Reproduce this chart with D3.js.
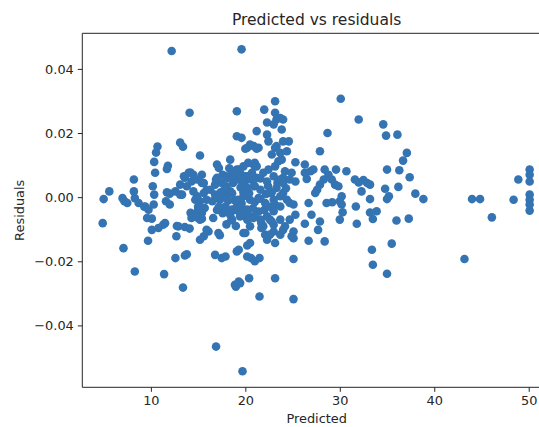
<!DOCTYPE html>
<html>
<head>
<meta charset="UTF-8">
<title>Predicted vs residuals</title>
<script src="https://cdn.jsdelivr.net/npm/d3@7"></script>
<style>
* { margin: 0; padding: 0; }
body { background: #fff; }
#chart { display: block; }
text { font-family: "DejaVu Sans", sans-serif; fill: #262626; }
</style>
</head>
<body>
<svg id="chart"></svg>
<script>
// values, chunk by chunk (left to right)
const predicted = [
  5.0, 4.9, 5.6, 7.0, 7.2, 7.5, 7.1, 8.2, 8.2, 8.3,
  8.7, 8.3, 9.3, 9.4, 9.75, 9.6, 10.1, 9.7, 10.1, 10.8,
  11.3, 10.35, 10.3, 10.2, 10.7, 10.55, 10.35, 10.45, 11.8, 11.7,
  11.7, 12.0, 11.6, 12.0, 11.5, 11.4,
  12.2, 13.1, 13.4, 14.1, 15.2, 13.1, 13.6, 14.2, 13.5, 14.0,
  14.5, 14.3, 13.8, 13.3, 12.6, 13.1, 14.5, 14.9, 14.7, 15.2,
  15.0, 15.4, 15.6, 15.9, 15.6, 15.9, 15.4, 14.9, 14.2, 14.7,
  15.4, 15.7, 15.2, 15.0, 14.3, 14.9, 15.4, 12.75, 12.7, 12.9,
  13.6, 14.1, 12.6, 13.6, 13.8, 13.4, 15.2, 15.6, 16.1, 15.9,
  17.0, 17.2, 18.4, 16.8, 17.5, 18.0, 16.8, 17.3, 17.9, 18.4,
  18.7, 19.1, 19.45, 19.1, 19.3, 18.6, 19.8, 20.2, 17.9, 18.6,
  19.1, 19.6, 19.45, 18.6, 18.5, 19.45, 20.2, 17.15, 17.3, 16.8,
  17.5, 17.9, 16.9, 19.1, 19.3, 19.0, 19.45, 19.7, 19.6, 19.1,
  19.1, 19.6, 19.8, 20.0, 16.3, 16.5, 17.0, 17.6, 18.1, 17.7,
  18.2, 18.9, 19.5, 19.9, 18.3, 17.0, 17.6, 18.0, 19.0, 16.6,
  17.4, 18.0, 18.6, 19.2, 19.8, 20.4, 21.0, 21.6, 22.2, 22.8,
  17.8, 18.4, 19.0, 19.6, 20.2, 20.8, 21.4, 22.0, 22.6, 23.2,
  18.0, 18.8, 19.6, 20.6, 21.6, 22.4, 23.4, 24.3, 17.2, 16.9,
  20.2, 20.9, 21.4, 21.2, 20.5, 20.0, 21.2, 22.0, 22.3, 21.0,
  23.15, 23.15, 23.3, 23.7, 24.0, 23.0, 23.85, 22.3, 22.45, 24.0,
  24.6, 23.3, 23.15, 23.7, 24.4, 22.8, 23.5, 23.85, 25.3, 21.0,
  20.9, 21.2, 22.45, 23.15, 24.2, 24.9, 24.7, 24.0, 25.3, 20.3,
  21.0, 20.7, 20.0, 21.2, 21.9, 22.3, 23.0, 23.7, 24.0, 23.3,
  22.6, 21.6, 20.9, 20.2, 19.8, 20.5, 21.4, 22.1, 23.0, 23.7,
  24.0, 24.4, 23.7, 23.0, 22.3, 21.6, 20.9, 20.2, 19.6, 20.5,
  21.9, 23.0, 23.7,
  26.3, 24.7, 26.7, 27.0, 27.9, 25.1, 27.7, 28.6,
  21.7, 22.1, 22.3, 20.85, 20.2, 20.6, 21.0, 21.5, 20.2, 20.5,
  21.5, 20.4, 23.15, 25.1, 25.1, 25.1, 23.0, 23.7, 23.15, 24.0,
  22.6, 24.7, 22.6, 24.2, 24.9, 21.7, 22.8, 25.1, 25.3, 18.9,
  19.3,
  26.9, 26.5, 26.3, 27.2, 27.9, 28.7, 30.1, 32.0, 28.4,
  28.8, 28.3, 29.15, 29.5, 29.85, 27.9, 27.6, 27.4, 29.6, 30.7,
  29.2, 30.2, 30.0, 30.2, 30.3, 30.0, 26.3, 26.7, 28.4,
  31.6, 32.0, 32.5, 32.9, 32.3, 31.7, 31.8,
  33.2, 33.2, 33.9, 33.2, 33.5, 33.4, 33.5, 35.0, 35.5,
  36.0, 37.3, 34.6, 34.9, 36.1, 35.0, 36.3, 36.7, 37.1, 37.4,
  36.2, 34.8, 35.2, 35.0, 38.0, 38.85,
  43.2, 44.0, 44.85, 46.1, 48.4, 48.9, 50.1, 50.1, 50.1, 50.1,
  50.1, 50.1, 50.1
];
const residuals = [
  -0.0006, -0.0081, 0.0018, -0.0003, -0.0013, -0.0018, -0.0159, 0.0055, 0.0018, -0.0003,
  -0.0018, -0.0232, -0.003, -0.0029, -0.0039, -0.0065, -0.0067, -0.0136, -0.0102, -0.0096,
  -0.0086, 0.0008, -0.0023, 0.0034, 0.0158, 0.0139, 0.011, 0.0076, 0.0098, 0.0088,
  0.0015, 0.0011, -0.0013, -0.0023, -0.0081, -0.024,
  0.0456, 0.017, 0.0157, 0.0263, 0.013, 0.0039, 0.0061, 0.0077, 0.0065, 0.0076,
  0.007, 0.0049, 0.0034, 0.0008, 0.0018, 0.0008, 0.0018, 0.0003, -0.0008, -0.0013,
  -0.0029, 0.0044, 0.0044, 0.0023, 0.0013, -0.0008, 0.007, 0.0055, -0.0049, -0.0055,
  -0.0049, -0.0034, -0.007, -0.0039, -0.0065, -0.0063, -0.0067, -0.009, -0.0122, -0.0091,
  -0.0093, -0.0098, -0.019, -0.0182, -0.0178, -0.0282, -0.0133, -0.0122, -0.0107, -0.0102,
  0.0102, 0.0091, 0.0117, 0.0039, 0.0044, 0.0034, 0.0008, -0.0008, 0.0003, 0.0018,
  0.0044, 0.0055, 0.0076, 0.0086, 0.0086, 0.0081, 0.0096, 0.0065, -0.0029, -0.0039,
  -0.0029, -0.0018, -0.0049, -0.007, -0.0072, -0.006, -0.007, -0.0112, -0.0119, -0.018,
  -0.019, -0.0185, -0.0466, -0.0169, -0.0164, -0.0279, -0.0268, -0.0543, 0.0461, 0.0268,
  0.019, 0.0185, -0.0112, -0.0112, 0.0023, -0.0013, 0.006, 0.007, 0.006, 0.002,
  -0.001, -0.001, 0.003, 0.0045, 0.009, -0.004, -0.005, -0.0085, -0.009, -0.0065,
  0.0015, -0.0005, 0.0012, -0.0008, 0.0015, 0.0012, -0.0015, -0.0005, 0.001, 0.0015,
  -0.0045, -0.0055, -0.004, -0.0055, -0.005, -0.0035, -0.0045, -0.004, -0.003, -0.0025,
  0.0065, 0.0062, 0.005, 0.0055, 0.0058, 0.0035, 0.0045, 0.0028, -0.003, 0.0055,
  0.0154, 0.0159, 0.0154, 0.0206, 0.0164, 0.0151, 0.0151, 0.0273, 0.0233, 0.0035,
  0.0299, 0.0263, 0.0242, 0.0247, 0.0242, 0.0227, 0.0211, 0.0195, 0.0174, 0.0174,
  0.0174, 0.0159, 0.0154, 0.0138, 0.0143, 0.0133, 0.0112, 0.0117, 0.0109, 0.0107,
  0.0102, 0.0096, 0.0086, 0.0096, 0.0081, 0.0076, 0.0055, 0.006, 0.0049, 0.0107,
  0.0096, 0.0076, 0.0065, 0.006, 0.0076, 0.0049, 0.0065, 0.0055, 0.0044, 0.0029,
  0.0013, 0.0023, 0.0034, 0.0029, 0.0003, -0.0008, -0.0003, -0.0018, -0.0008, 0.0003,
  0.0013, -0.0008, -0.0029, -0.0044, -0.006, -0.007, -0.006, -0.0039, -0.0029, -0.0091,
  -0.0091, -0.0086, -0.007,
  0.0102, -0.0018, -0.0018, -0.0055, -0.0076, -0.0107, -0.0102, -0.0018,
  -0.0096, -0.0117, -0.0133, -0.0065, -0.0185, -0.019, -0.02, -0.019, -0.0151, -0.0143,
  -0.031, -0.0253, -0.0253, -0.0318, -0.0193, -0.0128, -0.0107, -0.0117, -0.0143, -0.0102,
  -0.007, -0.007, -0.0117, -0.0091, -0.0122, -0.0081, -0.0076, -0.0023, -0.0055, -0.0273,
  -0.0263,
  0.0081, 0.0057, 0.0076, 0.0086, 0.0143, 0.02, 0.0307, 0.0242, 0.0086,
  0.007, 0.0055, 0.0055, 0.0039, 0.0034, 0.0039, 0.0023, 0.0013, 0.0086, 0.0081,
  -0.0016, 0.0003, -0.0013, -0.0023, -0.0047, -0.007, -0.0083, -0.0136, -0.0138,
  0.0055, 0.0046, 0.0053, 0.0044, 0.0018, -0.0029, -0.0083,
  0.0039, -0.0006, -0.0044, -0.0048, -0.0068, -0.0164, -0.0211, -0.0239, -0.0145,
  -0.0073, -0.0067, 0.0227, 0.0192, 0.0195, 0.0086, 0.0084, 0.0114, 0.0138, 0.0062,
  0.0032, 0.0026, 0.0003, -0.0006, 0.0011, -0.0006,
  -0.0193, -0.0006, -0.0006, -0.0063, -0.0008, 0.0055, 0.0086, 0.007, 0.0049, 0.0008,
  -0.0008, -0.0023, -0.0042
];
const xTicks = [10, 20, 30, 40, 50];
const yTicks = [-0.04, -0.02, 0.00, 0.02, 0.04];

(function() {
  const width = 539, height = 427;
  const plotLeft = 82.3, plotRight = 551, plotTop = 33.3, plotBottom = 387.3;

  const svg = d3.select("#chart").attr("width", width).attr("height", height);

  const x = d3.scaleLinear().domain([2.74, 52.36]).range([plotLeft, plotRight]);
  const y = d3.scaleLinear().domain([-0.0593, 0.0511]).range([plotBottom, plotTop]);

  const points = predicted.map((p, i) => ({ p: p, r: residuals[i] }));

  svg.append("g")
    .selectAll("circle")
    .data(points)
    .enter()
    .append("circle")
    .attr("cx", d => x(d.p))
    .attr("cy", d => y(d.r))
    .attr("r", 4.3)
    .style("fill", "#3474b3");

  // axes
  const xAxis = svg.append("g")
    .attr("transform", `translate(0,${plotBottom})`)
    .call(d3.axisBottom(x).tickValues(xTicks).tickSize(4.5).tickPadding(4).tickSizeOuter(0));
  const yAxis = svg.append("g")
    .attr("transform", `translate(${plotLeft},0)`)
    .call(d3.axisLeft(y).tickValues(yTicks).tickFormat(d3.format(".2f")).tickSize(4.5).tickPadding(4).tickSizeOuter(0));

  [xAxis, yAxis].forEach(a => {
    a.select(".domain").remove();
    a.selectAll(".tick line").style("stroke", "#262626").style("stroke-width", 1);
    a.selectAll(".tick text").style("font-size", "12.9px").style("font-family", "DejaVu Sans").style("fill", "#262626");
  });

  // spines
  const spine = svg.append("g").style("stroke", "#262626").style("stroke-width", 1).style("fill", "none");
  spine.append("line").attr("x1", plotLeft).attr("x2", plotLeft).attr("y1", plotTop).attr("y2", plotBottom);
  spine.append("line").attr("x1", plotLeft).attr("x2", plotRight).attr("y1", plotBottom).attr("y2", plotBottom);
  spine.append("line").attr("x1", plotLeft).attr("x2", plotRight).attr("y1", plotTop).attr("y2", plotTop);
  spine.append("line").attr("x1", plotRight).attr("x2", plotRight).attr("y1", plotTop).attr("y2", plotBottom);

  svg.append("text")
    .attr("x", (plotLeft + plotRight) / 2)
    .attr("y", 25)
    .attr("text-anchor", "middle")
    .style("font-size", "15.5px")
    .text("Predicted vs residuals");

  svg.append("text")
    .attr("x", (plotLeft + plotRight) / 2)
    .attr("y", 423)
    .attr("text-anchor", "middle")
    .style("font-size", "12.9px")
    .text("Predicted");

  svg.append("text")
    .attr("transform", `translate(24,${(plotTop + plotBottom) / 2}) rotate(-90)`)
    .attr("text-anchor", "middle")
    .style("font-size", "12.9px")
    .text("Residuals");
})();
</script>
</body>
</html>
